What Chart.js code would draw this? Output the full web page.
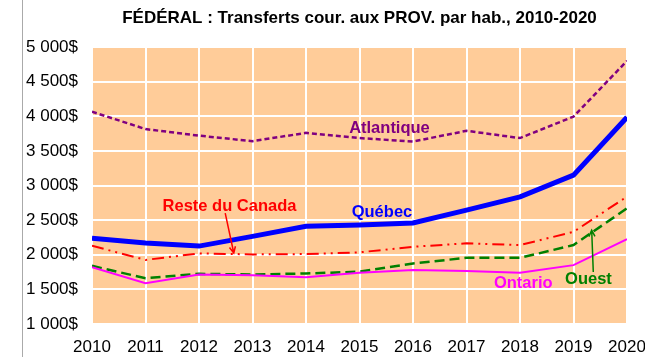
<!DOCTYPE html>
<html lang="fr">
<head>
<meta charset="UTF-8">
<title>FÉDÉRAL : Transferts cour. aux PROV. par hab., 2010-2020</title>
<script src="https://cdn.jsdelivr.net/npm/chart.js@4.4.1/dist/chart.umd.min.js"></script>
<style>
    body, html { margin: 0; padding: 0; background: #fff; }
    .wrap { width: 645px; height: 357px; position: relative; }
</style>
</head>
<body>
<div class="wrap"><canvas id="transferts" width="645" height="357"></canvas></div>
<script>
// Années et transferts par habitant ($)
const annees = [2010, 2011, 2012, 2013, 2014, 2015, 2016, 2017, 2018, 2019, 2020];
const quebec     = [2240, 2170, 2125, 2265, 2410, 2430, 2460, 2645, 2835, 3150, 3985];
const atlantique = [4065, 3815, 3720, 3640, 3760, 3685, 3635, 3790, 3685, 3995, 4800];
const resteCanada = [2130, 1925, 2020, 2005, 2010, 2035, 2115, 2165, 2140, 2330, 2840];
const ouest      = [1840, 1660, 1725, 1715, 1730, 1755, 1875, 1955, 1955, 2140, 2670];
const ontario    = [1820, 1590, 1715, 1705, 1675, 1740, 1780, 1765, 1740, 1850, 2225];
const yTicks = [1000, 1500, 2000, 2500, 3000, 3500, 4000, 4500, 5000];

const pts = vals => vals.map((v, i) => ({ x: annees[i], y: v }));
const fmt = v => String(v).replace(/\B(?=(\d{3})+(?!\d))/g, ' ') + '$';
const POLICE = '"Liberation Sans", Arial, sans-serif';

// Étiquettes des séries, placées en coordonnées (année, valeur)
const etiquettes = [
    { texte: 'Atlantique', x: 2015.56, y: 3826, couleur: '#800080' },
    { texte: 'Québec', x: 2015.42, y: 2613, couleur: '#0000FF' },
    { texte: 'Reste du Canada', x: 2012.57, y: 2704, couleur: '#FF0000' },
    { texte: 'Ontario', x: 2018.06, y: 1588, couleur: '#FF00FF' },
    { texte: 'Ouest', x: 2019.28, y: 1645, couleur: '#008000' }
];
const fleches = [
    { x1: 2012.49, y1: 2600, x2: 2012.65, y2: 2025, couleur: '#FF0000' },
    { x1: 2019.37, y1: 1750, x2: 2019.34, y2: 2355, couleur: '#008000' }
];

const decor = {
    id: 'decor',
    beforeDraw(chart) {
        const { ctx, chartArea: a } = chart;
        ctx.save();
        ctx.fillStyle = '#FFCC99';
        ctx.fillRect(a.left, a.top, a.right - a.left, a.bottom - a.top);
        ctx.restore();
    },
    afterDraw(chart) {
        const { ctx, chartArea: a, scales } = chart;
        ctx.save();
        // trait vertical gris à gauche
        ctx.strokeStyle = '#AAAAAA';
        ctx.lineWidth = 1;
        ctx.beginPath();
        ctx.moveTo(22.5, 0);
        ctx.lineTo(22.5, 357);
        ctx.stroke();

        // titre
        ctx.fillStyle = '#000';
        ctx.font = 'bold 17px ' + POLICE;
        ctx.textAlign = 'center';
        ctx.textBaseline = 'middle';
        ctx.fillText('FÉDÉRAL : Transferts cour. aux PROV. par hab., 2010-2020', (a.left + a.right) / 2, 18);

        ctx.font = 'bold 16.5px ' + POLICE;
        etiquettes.forEach(e => {
            ctx.fillStyle = e.couleur;
            ctx.fillText(e.texte, scales.x.getPixelForValue(e.x), scales.y.getPixelForValue(e.y));
        });

        fleches.forEach(f => {
            const x1 = scales.x.getPixelForValue(f.x1), y1 = scales.y.getPixelForValue(f.y1);
            const x2 = scales.x.getPixelForValue(f.x2), y2 = scales.y.getPixelForValue(f.y2);
            const ang = Math.atan2(y2 - y1, x2 - x1);
            ctx.strokeStyle = f.couleur;
            ctx.lineWidth = 1.5;
            ctx.beginPath();
            ctx.moveTo(x1, y1);
            ctx.lineTo(x2, y2);
            ctx.moveTo(x2 - 7 * Math.cos(ang - 0.45), y2 - 7 * Math.sin(ang - 0.45));
            ctx.lineTo(x2, y2);
            ctx.lineTo(x2 - 7 * Math.cos(ang + 0.45), y2 - 7 * Math.sin(ang + 0.45));
            ctx.stroke();
        });
        ctx.restore();
    }
};

const serie = (label, vals, couleur, largeur, tirets) => ({
    label: label,
    data: pts(vals),
    borderColor: couleur,
    backgroundColor: couleur,
    borderWidth: largeur,
    borderDash: tirets,
    pointRadius: 0,
    tension: 0,
    fill: false
});

new Chart(document.getElementById('transferts'), {
    type: 'line',
    data: {
        datasets: [
            serie('Ontario', ontario, '#FF00FF', 2, []),
            serie('Ouest', ouest, '#008000', 2.5, [10, 5]),
            serie('Reste du Canada', resteCanada, '#FF0000', 2, [12, 5, 2, 5, 2, 5]),
            serie('Atlantique', atlantique, '#800080', 2.5, [5, 3]),
            serie('Québec', quebec, '#0000FF', 5, [])
        ]
    },
    options: {
        responsive: false,
        animation: false,
        layout: { padding: { left: 0, top: 47, right: 18, bottom: 0 } },
        plugins: { legend: { display: false }, title: { display: false }, tooltip: { enabled: false } },
        scales: {
            x: {
                type: 'linear',
                min: 2010,
                max: 2020,
                afterBuildTicks: s => { s.ticks = annees.map(v => ({ value: v })); },
                afterFit: s => { s.height = 33; s.paddingLeft = 0; s.paddingRight = 0; },
                grid: { color: '#FFFFFF', lineWidth: 2, drawTicks: false },
                border: { display: false },
                ticks: {
                    callback: v => String(v),
                    color: '#000',
                    padding: 13,
                    maxRotation: 0,
                    font: { family: POLICE, size: 17 }
                }
            },
            y: {
                min: 1000,
                max: 5000,
                afterBuildTicks: s => { s.ticks = yTicks.map(v => ({ value: v })); },
                afterFit: s => { s.width = 92; s.paddingTop = 0; s.paddingBottom = 0; },
                grid: { color: '#FFFFFF', lineWidth: 2, drawTicks: false },
                border: { display: false },
                ticks: {
                    callback: v => fmt(v),
                    color: '#000',
                    padding: 14,
                    font: { family: POLICE, size: 17 }
                }
            }
        }
    },
    plugins: [decor]
});
</script>
</body>
</html>
